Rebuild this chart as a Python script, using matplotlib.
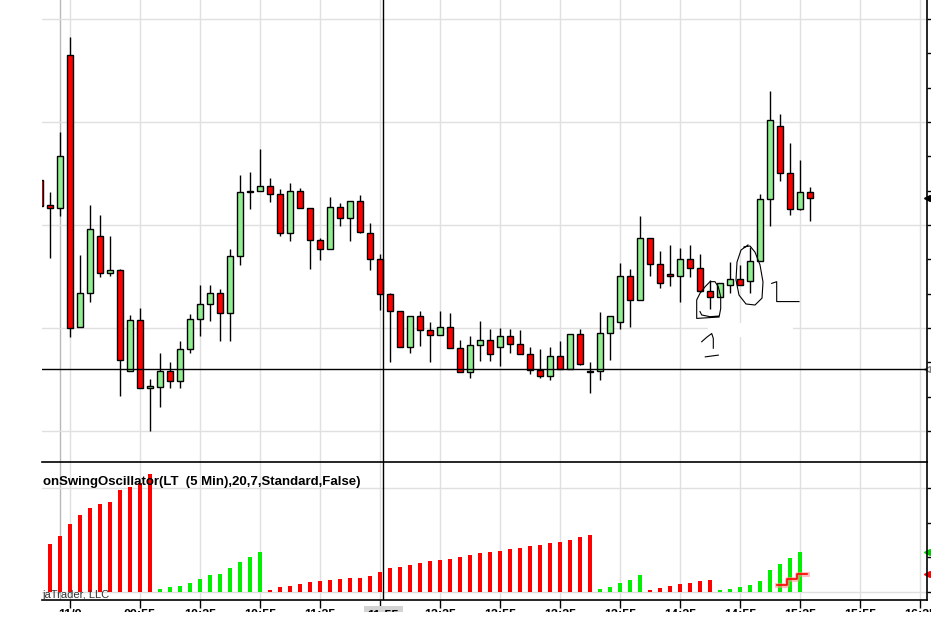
import matplotlib
matplotlib.use("Agg")
import matplotlib.pyplot as plt
from matplotlib.patches import Rectangle
from matplotlib.ticker import MultipleLocator, FixedLocator
import numpy as np

plt.rcParams['font.family'] = ['Liberation Sans', 'DejaVu Sans']

# Velas de 5 minutos (abertura, maxima, minima, fechamento)
opens = [30.731, 30.658, 30.650, 31.095, 30.303, 30.402, 30.568, 30.460, 30.469, 30.175,
         30.323, 30.125, 30.128, 30.175, 30.146, 30.239, 30.326, 30.370, 30.402, 30.344,
         30.510, 30.696, 30.699, 30.714, 30.690, 30.577, 30.699, 30.650, 30.556, 30.530,
         30.652, 30.620, 30.670, 30.577, 30.501, 30.399, 30.350, 30.245, 30.335, 30.294,
         30.280, 30.303, 30.242, 30.172, 30.251, 30.265, 30.245, 30.277, 30.253, 30.224,
         30.178, 30.160, 30.218, 30.181, 30.283, 30.172, 30.175, 30.285, 30.318, 30.451,
         30.382, 30.562, 30.486, 30.457, 30.451, 30.501, 30.475, 30.408, 30.390, 30.425,
         30.443, 30.437, 30.495, 30.676, 30.888, 30.752, 30.647, 30.696]
highs = [30.737, 30.696, 30.871, 31.148, 30.513, 30.658, 30.629, 30.568, 30.472, 30.338,
         30.358, 30.151, 30.227, 30.201, 30.262, 30.341, 30.425, 30.425, 30.414, 30.530,
         30.746, 30.754, 30.821, 30.737, 30.705, 30.722, 30.708, 30.650, 30.562, 30.682,
         30.664, 30.670, 30.687, 30.606, 30.516, 30.402, 30.350, 30.335, 30.350, 30.318,
         30.350, 30.344, 30.265, 30.277, 30.320, 30.297, 30.300, 30.297, 30.294, 30.245,
         30.239, 30.245, 30.262, 30.283, 30.297, 30.201, 30.347, 30.335, 30.489, 30.472,
         30.626, 30.562, 30.524, 30.542, 30.533, 30.542, 30.516, 30.440, 30.431, 30.492,
         30.484, 30.536, 30.690, 30.990, 30.923, 30.839, 30.789, 30.711]
lows = [30.650, 30.504, 30.626, 30.274, 30.303, 30.376, 30.449, 30.451, 30.102, 30.175,
        30.125, 30.000, 30.070, 30.125, 30.125, 30.227, 30.277, 30.320, 30.262, 30.262,
        30.484, 30.647, 30.699, 30.667, 30.568, 30.553, 30.650, 30.472, 30.498, 30.530,
        30.597, 30.553, 30.577, 30.469, 30.352, 30.201, 30.245, 30.227, 30.248, 30.201,
        30.280, 30.242, 30.172, 30.154, 30.204, 30.204, 30.189, 30.227, 30.224, 30.166,
        30.154, 30.149, 30.181, 30.181, 30.192, 30.111, 30.149, 30.207, 30.297, 30.303,
        30.382, 30.451, 30.417, 30.422, 30.376, 30.449, 30.405, 30.355, 30.390, 30.402,
        30.425, 30.402, 30.495, 30.597, 30.728, 30.629, 30.644, 30.612]
closes = [30.655, 30.650, 30.801, 30.300, 30.402, 30.588, 30.460, 30.469, 30.207, 30.323,
          30.125, 30.131, 30.175, 30.146, 30.239, 30.326, 30.370, 30.402, 30.344, 30.510,
          30.696, 30.699, 30.714, 30.690, 30.577, 30.699, 30.650, 30.556, 30.530, 30.652,
          30.620, 30.670, 30.580, 30.501, 30.399, 30.350, 30.245, 30.335, 30.294, 30.280,
          30.303, 30.242, 30.172, 30.251, 30.265, 30.224, 30.277, 30.253, 30.224, 30.178,
          30.160, 30.218, 30.181, 30.283, 30.195, 30.172, 30.285, 30.335, 30.451, 30.382,
          30.562, 30.486, 30.431, 30.451, 30.501, 30.475, 30.408, 30.390, 30.431, 30.443,
          30.425, 30.495, 30.676, 30.906, 30.752, 30.647, 30.696, 30.679]

# Oscilador (barras 1..76) e cor de cada barra
osc_vals = [1.38, 1.62, 1.96, 2.22, 2.42, 2.54, 2.60, 2.94, 3.03, 3.14, 3.40,
            0.09, 0.14, 0.17, 0.26, 0.37, 0.49, 0.52, 0.69, 0.87, 1.01, 1.15,
            0.06, 0.14, 0.17, 0.23, 0.29, 0.32, 0.35, 0.37, 0.40, 0.40, 0.46,
            0.58, 0.69, 0.72, 0.78, 0.84, 0.89, 0.92, 0.95, 1.01, 1.07, 1.12,
            1.15, 1.18, 1.24, 1.27, 1.33, 1.36, 1.41, 1.44, 1.50, 1.59, 1.64,
            0.09, 0.14, 0.26, 0.35, 0.49,
            0.06, 0.12, 0.17, 0.23, 0.26, 0.32, 0.35,
            0.06, 0.09, 0.14, 0.20, 0.32, 0.63, 0.81, 0.98, 1.15]
osc_cols = ['r'] * 11 + ['g'] * 11 + ['r'] * 33 + ['g'] * 5 + ['r'] * 7 + ['g'] * 9
signal_idx = [74, 75, 76]
signal_vals = [0.20, 0.37, 0.52]

# Eixo de tempo
tick_pos = [3, 10, 16, 22, 28, 34, 40, 46, 52, 58, 64, 70, 76, 82, 88]
tick_labels = ["11/9", "09:55", "10:25", "10:55", "11:25", "11:55", "12:25", "12:55",
               "13:25", "13:55", "14:25", "14:55", "15:25", "15:55", "16:25"]
day_break = 2
cross_x = 34.3
cross_price = 30.181
cross_label = "11:55"

# Rabiscos feitos a mao (barra, preco)
loop1 = [(67.9, 30.332), (65.67, 30.328), (65.67, 30.382), (66.0, 30.401), (66.5, 30.420),
         (67.0, 30.435), (67.5, 30.435), (67.83, 30.420), (68.07, 30.391), (68.07, 30.357),
         (67.93, 30.335), (67.0, 30.333), (66.17, 30.338), (66.0, 30.348)]
loop2 = [(70.8, 30.542), (70.1, 30.527), (69.7, 30.492), (69.6, 30.440), (69.9, 30.396),
         (70.6, 30.370), (71.5, 30.367), (72.2, 30.387), (72.3, 30.434), (72.0, 30.484),
         (71.5, 30.521), (71.0, 30.539), (70.4, 30.536)]
mark_one = [(73.17, 30.430), (73.67, 30.435), (73.67, 30.377), (75.9, 30.377)]
mark_two_a = [(66.17, 30.260), (66.67, 30.273), (67.17, 30.284), (67.33, 30.270), (67.33, 30.241)]
mark_two_b = [(66.53, 30.216), (67.83, 30.221)]
erase_box = (66.8, 30.274, 8.5, 0.041)

GRID = '#e0e0e0'
fig = plt.figure(figsize=(9.31, 6.27), dpi=100)
ax = fig.add_axes([42 / 931, 1 - 462 / 627, 885 / 931, 462 / 627])
ax2 = fig.add_axes([42 / 931, 1 - 600 / 627, 885 / 931, 138 / 627], sharex=ax)

n = len(opens)
x = np.arange(n)
o = np.array(opens); h = np.array(highs); l = np.array(lows); c = np.array(closes)

# velas
ax.vlines(x, l, h, color='black', lw=1.0, zorder=3)
body_bot = np.minimum(o, c)
body_h = np.maximum(np.abs(c - o), 0.0015)
cores = ['#90EE90' if cc >= oo else '#FF0000' for oo, cc in zip(o, c)]
ax.bar(x, body_h, 0.6, bottom=body_bot, color=cores, edgecolor='black', lw=1.0, zorder=4)

# grade
ax.set_xlim(0.2, 88.7)
ax.set_ylim(29.9097, 31.2555)
ax.yaxis.set_major_locator(MultipleLocator(0.3))
ax.yaxis.set_minor_locator(MultipleLocator(0.1))
ax.xaxis.set_major_locator(FixedLocator(tick_pos))
ax.grid(True, which='major', color=GRID, lw=1.0, zorder=0)
ax.axvline(day_break, color='#b8b8b8', lw=1.0, zorder=1)
ax.axhline(cross_price, color='black', lw=1.0, zorder=5)
ax.axvline(cross_x, color='black', lw=1.0, zorder=5)

ax.yaxis.tick_right()
ax.tick_params(axis='y', which='both', direction='out', length=4, width=1, labelright=False)
ax.tick_params(axis='x', which='both', length=0, labelbottom=False)
for s in ['left', 'top', 'bottom']:
    ax.spines[s].set_visible(False)
ax.spines['right'].set_linewidth(1.2)

# apagado e rabiscos
ax.add_patch(Rectangle(erase_box[:2], erase_box[2], erase_box[3], facecolor='white',
                       edgecolor='none', zorder=2))
for path in [loop1, loop2, mark_one, mark_two_a, mark_two_b]:
    px, py = zip(*path)
    ax.plot(px, py, color='black', lw=0.8, zorder=6)

ax.plot([1.0], [closes[-1]], marker='<', ms=4, color='black', transform=ax.get_yaxis_transform(), clip_on=False)
ax.plot([1.0], [cross_price], marker='<', ms=4, mfc='white', mec='gray', transform=ax.get_yaxis_transform(), clip_on=False)

# oscilador
ox = np.arange(1, len(osc_vals) + 1)
ocol = ['#FF0000' if k == 'r' else '#00F000' for k in osc_cols]
ax2.bar(ox, osc_vals, 0.32, color=ocol, zorder=3)
sx = [i - 0.3 for i in signal_idx] + [signal_idx[-1] + 0.7]
sy = signal_vals + [signal_vals[-1]]
ax2.step(sx, sy, where='post', color='#ff9090', lw=3.5, alpha=0.6, zorder=4)
ax2.step(sx, sy, where='post', color='#FF0000', lw=1.2, zorder=5)

ax2.set_ylim(-0.231, 3.75)
ax2.yaxis.set_major_locator(MultipleLocator(3))
ax2.yaxis.set_minor_locator(MultipleLocator(1))
ax2.grid(True, which='major', color=GRID, lw=1.0, zorder=0)
ax2.axvline(day_break, color='#b8b8b8', lw=1.0, zorder=1)
ax2.axvline(cross_x, color='black', lw=1.0, zorder=5)
ax2.yaxis.tick_right()
ax2.tick_params(axis='y', which='both', direction='out', length=4, width=1, labelright=False)
ax2.set_xticks(tick_pos)
# o rotulo sob a cruz e' coberto pela etiqueta cinza
ax2.set_xticklabels(["" if p == round(cross_x) else t for p, t in zip(tick_pos, tick_labels)],
                    fontsize=9, fontweight='bold')
ax2.tick_params(axis='x', direction='out', length=5.5, width=1, pad=0.8)
ax2.spines['left'].set_visible(False)
for s in ['top', 'bottom', 'right']:
    ax2.spines[s].set_linewidth(1.2)

ax2.plot([1.0], [osc_vals[-1]], marker='<', ms=4, color='#00CC00', transform=ax2.get_yaxis_transform(), clip_on=False)
ax2.plot([1.0], [signal_vals[-1]], marker='<', ms=4, color='#FF0000', transform=ax2.get_yaxis_transform(), clip_on=False)

ax2.text(0.001, 3.17, "onSwingOscillator(LT  (5 Min),20,7,Standard,False)", transform=ax2.get_yaxis_transform(),
         fontsize=9.5, fontweight='bold', va='center', ha='left', zorder=6)
ax2.text(0.0, -0.09, "jaTrader, LLC", transform=ax2.get_yaxis_transform(),
         fontsize=8, color='#333333', va='center', ha='left', zorder=6)
ax2.annotate(cross_label, xy=(cross_x, 0), xycoords=('data', 'axes fraction'), xytext=(0, -7.0),
             textcoords='offset points', ha='center', va='top', fontsize=9, fontweight='bold',
             bbox=dict(boxstyle='square,pad=0.3', fc='#d3d3d3', ec='none'), zorder=7)

# faixa branca no rodape (recorte da captura)
fig.add_artist(Rectangle((0, 0), 1, 15 / 627, transform=fig.transFigure, facecolor='white',
                         edgecolor='none', zorder=20))

fig.savefig("out.png", dpi=100)
